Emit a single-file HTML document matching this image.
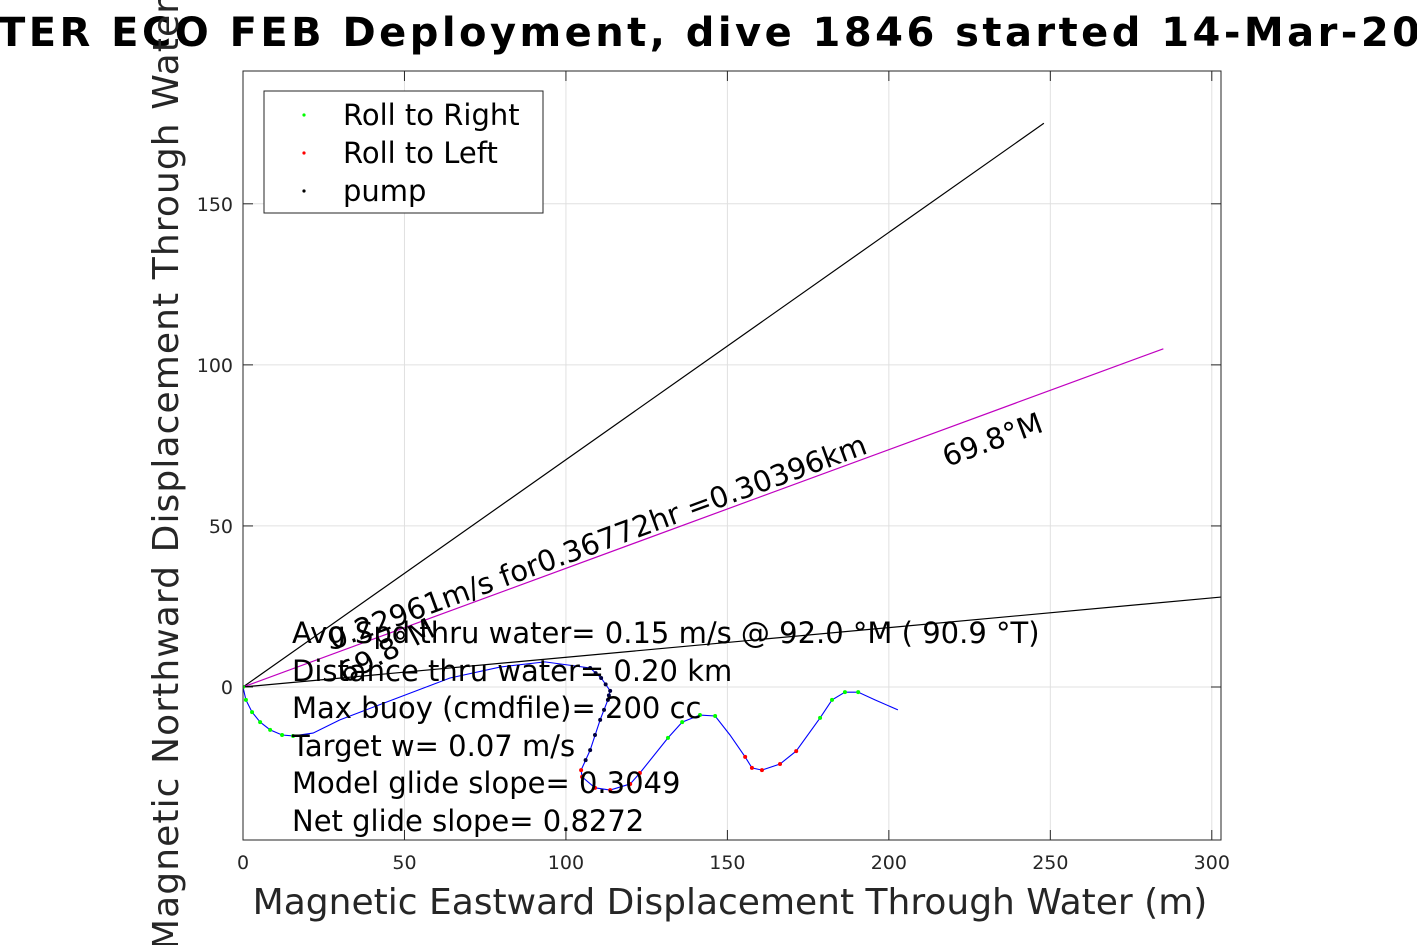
<!DOCTYPE html>
<html><head><meta charset="utf-8"><style>
body{margin:0;background:#fff;width:1417px;height:945px;overflow:hidden}
svg{font-family:"DejaVu Sans","Liberation Sans",sans-serif}
</style></head><body>
<svg id="chart" width="1417" height="945" viewBox="0 0 1417 945" xmlns="http://www.w3.org/2000/svg">
<defs><clipPath id="plotclip"><rect x="243" y="71" width="978" height="769"/></clipPath></defs>
<rect x="243" y="71" width="978" height="769" fill="#fff"/>
<g id="grid"></g>
<g id="axes"></g>
<g id="marks" clip-path="url(#plotclip)"></g>
<rect x="243" y="71" width="978" height="769" fill="none" stroke="#262626" stroke-width="1"/>
<text x="-2" y="46" font-size="40" font-weight="bold" textLength="1422">TER ECO FEB Deployment, dive 1846 started 14-Mar-20</text>
<text x="730" y="914" font-size="36" fill="#262626" text-anchor="middle">Magnetic Eastward Displacement Through Water (m)</text>
<text transform="translate(178,950) rotate(-90)" font-size="36" fill="#262626" textLength="1030">Magnetic Northward Displacement Through Water (m)</text>
<g font-size="29" fill="#000">
<text x="292" y="643">Avg Spd thru water=  0.15 m/s @  92.0 °M ( 90.9 °T)</text>
<text x="292" y="681">Distance thru water=  0.20 km</text>
<text x="292" y="718">Max buoy (cmdfile)= 200 cc</text>
<text x="292" y="756">Target w= 0.07 m/s</text>
<text x="292" y="793">Model glide slope= 0.3049</text>
<text x="292" y="831">Net glide slope= 0.8272</text>
</g>
<text transform="translate(333,650) rotate(-20.2)" font-size="29">0.22961m/s for0.36772hr =0.30396km</text>
<text transform="translate(947,467) rotate(-20.2)" font-size="29">69.8°M</text>
<text transform="translate(345,684) rotate(-28)" font-size="29">69.8°M</text>
<g>
<rect x="264" y="91" width="279" height="122" fill="#fff" stroke="#262626"/>
<circle cx="304" cy="115" r="1.6" fill="#0f0"/>
<text x="343" y="125" font-size="29">Roll to Right</text>
<circle cx="304" cy="153" r="1.6" fill="#f00"/>
<text x="343" y="163" font-size="29">Roll to Left</text>
<circle cx="304" cy="191" r="1.6" fill="#000"/>
<text x="343" y="201" font-size="29">pump</text>
</g>
</svg>
<script>
const xTicks=[0,50,100,150,200,250,300];
const yTicks=[0,50,100,150];
const trackX=[0,0.9,2.8,5.3,8.4,12.1,15.5,21.7,30.0,48.6,64.1,79.6,93.5,107.5,110.9,113.7,113.0,110.6,107.5,104.7,105.0,109.0,113.7,119.9,122.9,131.6,136.0,141.5,146.2,150.8,155.5,157.6,160.7,166.3,171.3,178.7,182.4,186.4,190.5,195.7,202.8];
const trackY=[0,-4.0,-7.8,-10.9,-13.3,-14.9,-15.2,-14.3,-10.2,-3.1,2.8,6.2,7.8,5.9,2.8,-1.2,-4.0,-10.2,-19.6,-25.8,-27.9,-31.3,-32.0,-30.1,-26.7,-15.8,-10.9,-8.7,-9.0,-14.9,-21.7,-25.1,-25.8,-23.9,-19.9,-9.6,-4.0,-1.6,-1.6,-4.0,-7.1];
const rollRightX=[0,0.9,2.8,5.3,8.4,12.1,15.5,131.6,136.0,141.5,146.2,178.7,182.4,186.4,190.5];
const rollRightY=[0,-4.0,-7.8,-10.9,-13.3,-14.9,-15.2,-15.8,-10.9,-8.7,-9.0,-9.6,-4.0,-1.6,-1.6];
const rollLeftX=[104.7,105.0,109.0,113.7,119.9,122.9,155.5,157.6,160.7,166.3,171.3];
const rollLeftY=[-25.8,-27.9,-31.3,-32.0,-30.1,-26.7,-21.7,-25.1,-25.8,-23.9,-19.9];
const pumpX=[107.5,109.2,110.9,112.3,113.7,113.3,113.0,111.8,110.6,109.0,107.5,106.1];
const pumpY=[5.9,4.3,2.8,0.8,-1.2,-2.6,-4.0,-7.1,-10.2,-14.9,-19.6,-22.7];
const lineEndX=[248,285,320];
const lineEndY=[175,105,29.5];
const lineColor=['#000','#c000c0','#000'];
const NS='http://www.w3.org/2000/svg';
const sx=v=>243+v*3.2293, sy=v=>687-v*3.2213;
const grid=document.getElementById('grid'),axes=document.getElementById('axes'),marks=document.getElementById('marks');
function mk(tag,attrs,parent){const e=document.createElementNS(NS,tag);for(const k in attrs)e.setAttribute(k,attrs[k]);parent.appendChild(e);return e;}
xTicks.forEach(t=>{const x=sx(t);
 const g=mk('line',{x1:x,x2:x,y1:71,y2:840,stroke:'#e0e0e0'},grid);
 
 
 mk('line',{x1:x,x2:x,y1:840,y2:830,stroke:'#262626'},axes);
 mk('line',{x1:x,x2:x,y1:71,y2:81,stroke:'#262626'},axes);
 const tx=mk('text',{x:x,y:869,'font-size':19,'text-anchor':'middle',fill:'#262626'},axes);
 tx.textContent=t;
 
 
});
yTicks.forEach(t=>{const y=sy(t);
 const g=mk('line',{x1:243,x2:1221,y1:y,y2:y,stroke:'#e0e0e0'},grid);
 
 
 mk('line',{x1:243,x2:253,y1:y,y2:y,stroke:'#262626'},axes);
 mk('line',{x1:1221,x2:1211,y1:y,y2:y,stroke:'#262626'},axes);
 const tx=mk('text',{x:233,y:y+7,'font-size':19,'text-anchor':'end',fill:'#262626'},axes);
 tx.textContent=t;
 
 
});
lineEndX.forEach((v,i)=>{
 const l=mk('line',{x1:sx(0),y1:sy(0),x2:sx(v),y2:sy(lineEndY[i]),stroke:lineColor[i],'stroke-width':1.2},marks);
 
 
});
const p=mk('polyline',{points:trackX.map((v,i)=>sx(v)+','+sy(trackY[i])).join(' '),fill:'none',stroke:'#0000ff','stroke-width':1.1},marks);


function dots(X,Y,c,name){X.forEach((v,i)=>{const d=mk('circle',{cx:sx(v),cy:sy(Y[i]),r:2,fill:c},marks);
 
 });}
dots(rollRightX,rollRightY,'#00ff00','roll-right-point');
dots(rollLeftX,rollLeftY,'#ff0000','roll-left-point');
dots(pumpX,pumpY,'#000040','pump-point');
</script>
</body></html>
